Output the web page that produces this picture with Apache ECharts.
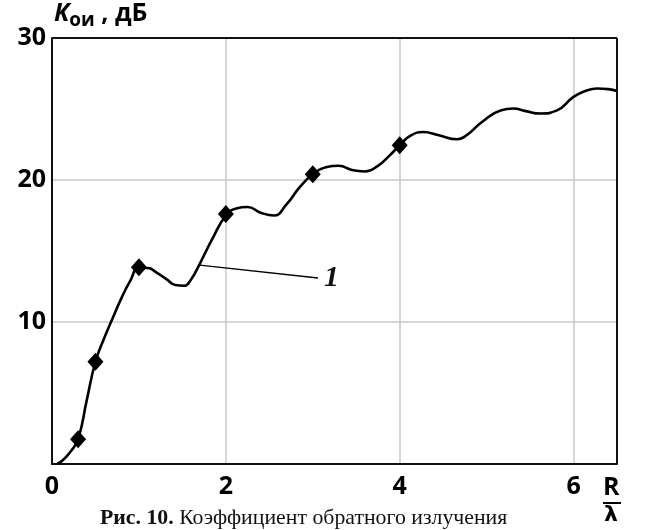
<!DOCTYPE html>
<html>
<head>
<meta charset="utf-8">
<script src="https://cdn.jsdelivr.net/npm/echarts@6/dist/echarts.min.js"></script>
<style>
  html, body { margin: 0; padding: 0; background: #fff; }
  #chart { width: 645px; height: 530px; }
</style>
</head>
<body>
<div id="chart"></div>
<script>
// Back-radiation coefficient K (dB) versus R/λ
const curveX = [0.06, 0.12, 0.21, 0.30, 0.40, 0.50, 0.60, 0.70, 0.80, 0.90, 1.00, 1.10, 1.20, 1.32, 1.42, 1.52,
                1.60, 1.70, 1.84, 2.00, 2.12, 2.25, 2.40, 2.55, 2.70, 2.85, 3.00, 3.15, 3.30, 3.45, 3.60, 3.75,
                3.88, 4.00, 4.12, 4.27, 4.45, 4.66, 4.77, 4.95, 5.16, 5.31, 5.45, 5.62, 5.81, 6.00, 6.15, 6.27,
                6.40, 6.50];
const curveY = [0.0, 0.25, 0.85, 1.75, 4.5, 7.2, 8.85, 10.3, 11.7, 12.9, 13.8, 13.8, 13.5, 13.0, 12.6, 12.55,
                13.0, 14.1, 15.8, 17.5, 18.0, 18.1, 17.7, 17.5, 18.3, 19.5, 20.4, 20.9, 21.0, 20.7, 20.6, 21.0,
                21.7, 22.45, 23.1, 23.38, 23.15, 22.87, 23.15, 24.1, 24.9, 25.03, 24.85, 24.68, 24.9, 25.85, 26.3, 26.44,
                26.4, 26.27];
const markerX = [0.3, 0.5, 1.0, 2.0, 3.0, 4.0];
const markerY = [1.75, 7.2, 13.85, 17.6, 20.4, 22.45];
const xTicks = [0, 2, 4, 6];
const yTicks = [10, 20, 30];
const leaderFrom = [1.70, 14.0];
const leaderTo = [3.06, 13.1];
const leaderText = '1';
const yTitle = ['K', 'ои', ' , дБ'];
const xTitle = ['R', 'λ'];
const captionBold = 'Рис. 10.';
const captionText = ' Коэффициент обратного излучения';

const chart = echarts.init(document.getElementById('chart'), null, { renderer: 'canvas' });

const tickFont = { fontFamily: 'Open Sans', fontWeight: 'bold', fontSize: 25, color: '#000' };

chart.setOption({
  animation: false,
  backgroundColor: '#fff',
  grid: { left: 52, top: 38, right: 28, bottom: 66, show: false },
  xAxis: {
    type: 'value', min: 0, max: 6.5, interval: 2,
    axisLine: { show: true, onZero: false, lineStyle: { color: '#111', width: 2 } },
    axisTick: { show: false },
    axisLabel: Object.assign({ margin: 10, formatter: v => xTicks.includes(v) ? String(v) : '' }, tickFont),
    splitLine: { show: true, lineStyle: { color: '#c8c8c8', width: 1.5 } }
  },
  yAxis: {
    type: 'value', min: 0, max: 30, interval: 10,
    axisLine: { show: true, onZero: false, lineStyle: { color: '#111', width: 2 } },
    axisTick: { show: false },
    axisLabel: Object.assign({ margin: 6, formatter: v => yTicks.includes(v) ? String(v) : '' }, tickFont),
    splitLine: { show: true, lineStyle: { color: '#c8c8c8', width: 1.5 } }
  },
  series: [
    {
      // frame on the top and right sides of the plot
      type: 'line', data: [], silent: true,
      markLine: {
        silent: true, symbol: 'none', label: { show: false },
        lineStyle: { color: '#111', width: 2, type: 'solid' },
        data: [
          [{ coord: [0, 30] }, { coord: [6.5, 30] }],
          [{ coord: [6.5, 0] }, { coord: [6.5, 30] }]
        ]
      }
    },
    {
      type: 'line', smooth: 0.5, showSymbol: false, z: 3,
      data: curveX.map((x, i) => [x, curveY[i]]),
      lineStyle: { color: '#000', width: 2.6 },
      markLine: {
        silent: true, symbol: 'none',
        lineStyle: { color: '#000', width: 1.3, type: 'solid' },
        label: {
          show: true, position: 'end', formatter: leaderText, distance: 6,
          fontFamily: 'Liberation Serif', fontStyle: 'italic', fontWeight: 'bold', fontSize: 30, color: '#111'
        },
        data: [[{ coord: leaderFrom }, { coord: leaderTo }]]
      }
    },
    {
      type: 'scatter', symbol: 'diamond', symbolSize: [16, 18], z: 4,
      itemStyle: { color: '#000', opacity: 1 },
      data: markerX.map((x, i) => [x, markerY[i]])
    }
  ],
  graphic: [
    {
      type: 'text', left: 54, top: 1,
      style: {
        text: '{k|' + yTitle[0] + '}{s|' + yTitle[1] + '}{t|' + yTitle[2] + '}',
        rich: {
          k: { fontFamily: 'Open Sans', fontWeight: 'bold', fontStyle: 'italic', fontSize: 25, fill: '#000', verticalAlign: 'bottom' },
          s: { fontFamily: 'Open Sans', fontWeight: 'bold', fontSize: 19, fill: '#000', verticalAlign: 'bottom', padding: [0, 0, -4, 0] },
          t: { fontFamily: 'Open Sans', fontWeight: 'bold', fontSize: 25, fill: '#000', verticalAlign: 'bottom' }
        }
      }
    },
    {
      type: 'text', left: 603, top: 475,
      style: { text: xTitle[0], fontFamily: 'Open Sans', fontWeight: 'bold', fontSize: 25, fill: '#000' }
    },
    {
      type: 'line', shape: { x1: 603, y1: 503, x2: 621, y2: 503 },
      style: { stroke: '#000', lineWidth: 2 }
    },
    {
      type: 'text', left: 604, top: 504,
      style: { text: xTitle[1], fontFamily: 'DejaVu Sans', fontWeight: 'bold', fontSize: 22, fill: '#000' }
    },
    {
      type: 'text', left: 100, top: 507,
      style: {
        text: '{b|' + captionBold + '}{n|' + captionText + '}',
        rich: {
          b: { fontFamily: 'Liberation Serif', fontWeight: 'bold', fontSize: 21.8, fill: '#111' },
          n: { fontFamily: 'Liberation Serif', fontSize: 21.8, fill: '#111' }
        }
      }
    }
  ]
});
</script>
</body>
</html>
